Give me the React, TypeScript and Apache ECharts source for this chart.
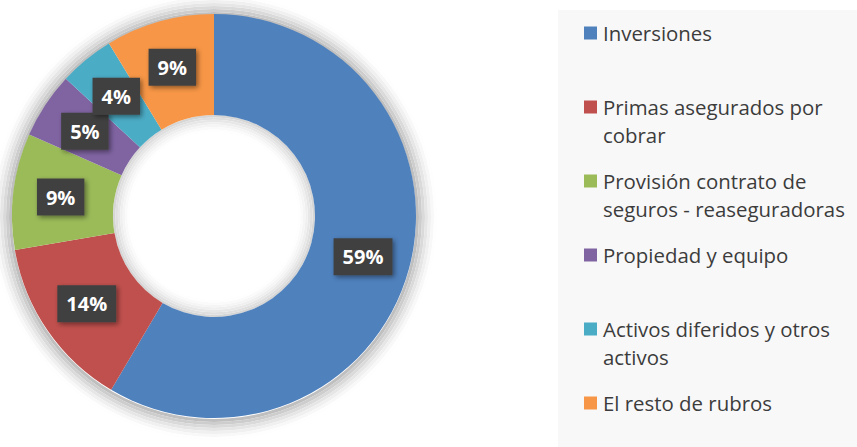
import React, { useEffect, useRef } from "react";
import * as echarts from "echarts";

const categories = [
  "Inversiones",
  "Primas asegurados por cobrar",
  "Provisión contrato de seguros - reaseguradoras",
  "Propiedad y equipo",
  "Activos diferidos y otros activos",
  "El resto de rubros",
];
const values = [58.5, 13.8, 9.3, 5.3, 4.4, 8.7];
const colors = ["#4F81BD", "#C0504D", "#9BBB59", "#8064A2", "#4BACC6", "#F79646"];

export default function App() {
  const ref = useRef<HTMLDivElement>(null);
  useEffect(() => {
    if (!ref.current) return;
    const chart = echarts.init(ref.current, null, { renderer: "svg" });
    const total = values.reduce((a, b) => a + b, 0);
    const legendGraphics: any[] = [];
    categories.forEach((name, i) => {
      const cy = 33 + i * 74;
      legendGraphics.push({
        type: "rect",
        left: 584,
        top: cy - 6.5,
        shape: { width: 13, height: 13 },
        style: { fill: colors[i] },
        silent: true,
      });
      legendGraphics.push({
        type: "text",
        x: 603,
        y: cy - 14,
        style: {
          text: name,
          fill: "#3c3c3c",
          font: '20.4px "Open Sans"',
          lineHeight: 28,
          width: 252,
          overflow: "break",
          verticalAlign: "top",
        },
        silent: true,
      });
    });
    // decorative soft halo (outer and inner edge of the ring)
    const grey = (a: number) => {
      const v = Math.round(255 - a * 255);
      return `rgb(${v},${v},${v})`;
    };
    const haloSeries: any[] = [];
    const steps = 7;
    for (let k = 0; k < steps; k++) {
      const t = (k + 0.5) / steps;
      const aOut = 0.28 * Math.pow(1 - t, 1.5);
      const aIn = 0.18 * Math.pow(1 - t, 1.5);
      haloSeries.push({
        type: "pie",
        silent: true,
        z: 1,
        center: [214, 217],
        radius: [202 + k * 3, 202 + (k + 1) * 3],
        label: { show: false },
        labelLine: { show: false },
        tooltip: { show: false },
        emphasis: { disabled: true },
        itemStyle: { color: grey(aOut), borderWidth: 0 },
        data: [{ value: 1, name: "" }],
      });
      haloSeries.push({
        type: "pie",
        silent: true,
        z: 1,
        center: [214, 216],
        radius: [101 - (k + 1) * 2.4, 101 - k * 2.4],
        label: { show: false },
        labelLine: { show: false },
        tooltip: { show: false },
        emphasis: { disabled: true },
        itemStyle: { color: grey(aIn), borderWidth: 0 },
        data: [{ value: 1, name: "" }],
      });
    }
    chart.setOption({
      animation: false,
      graphic: [
        {
          type: "rect",
          left: 558,
          top: 10,
          z: -20,
          silent: true,
          shape: { width: 299, height: 437 },
          style: { fill: "#F8F8F8" },
        },
        ...legendGraphics,
      ],
      series: [
        ...haloSeries,
        {
          type: "pie",
          z: 2,
          center: [214, 216],
          radius: [101, 202],
          startAngle: 90,
          clockwise: true,
          avoidLabelOverlap: false,
          labelLayout: { hideOverlap: false },
          label: {
            show: true,
            position: "inside",
            formatter: (p: any) => Math.round((p.value / total) * 100) + "%",
            color: "#ffffff",
            fontFamily: "Open Sans",
            fontWeight: "bold",
            fontSize: 20,
            lineHeight: 21,
            backgroundColor: "#404040",
            padding: [8, 9, 8, 9],
            shadowBlur: 5,
            shadowColor: "rgba(0,0,0,0.45)",
            shadowOffsetX: 2,
            shadowOffsetY: 2,
          },
          labelLine: { show: false },
          itemStyle: { borderWidth: 0 },
          emphasis: { disabled: true },
          data: categories.map((name, i) => ({
            name,
            value: values[i],
            itemStyle: { color: colors[i] },
          })),
        },
      ],
    });
    return () => chart.dispose();
  }, []);
  return (
    <div
      ref={ref}
      style={{ position: "fixed", left: 0, top: 0, width: 857, height: 447, background: "#ffffff" }}
    />
  );
}
